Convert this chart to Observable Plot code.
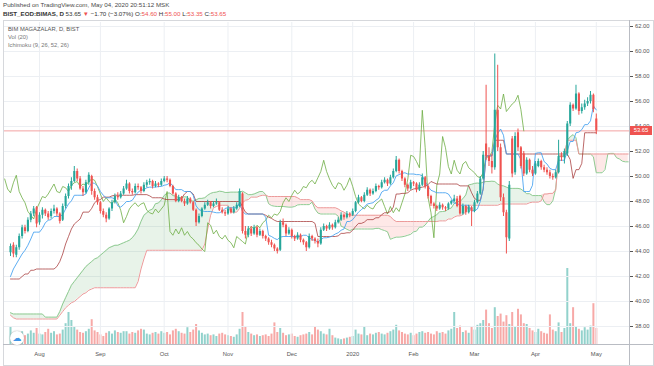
<!DOCTYPE html>
<html><head><meta charset="utf-8">
<script src="https://cdn.jsdelivr.net/npm/d3@7"></script>
<script src="https://cdn.jsdelivr.net/npm/@observablehq/plot@0.6"></script>
<style>
body{margin:0;width:654px;height:366px;overflow:hidden;background:#fff;font-family:"Liberation Sans",Arial,sans-serif;position:relative}
.abs{position:absolute;white-space:nowrap}
.r{color:#ef5350}
</style></head><body>
<div class="abs" style="left:3px;top:1px;font-size:6.2px;color:#4a4a4a">Published on TradingView.com, May 04, 2020 20:51:12 MSK</div>
<div class="abs" style="left:3px;top:10px;font-size:6.2px;color:#333"><b>BIST_EOD:BIMAS, D</b> 53.65 <span class="r">▼</span> −1.70 (−3.07%) O:<span class="r">54.60</span> H:<span class="r">55.00</span> L:<span class="r">53.35</span> C:<span class="r">53.65</span></div>
<div id="chart" class="abs" style="left:0;top:20px;width:654px;height:346px"></div>
<div class="abs" style="left:3px;top:20px;width:649px;height:344px;border:1px solid #d6d8dc;pointer-events:none"></div>
<div class="abs" style="left:3px;top:344px;width:650px;height:1px;background:#b9bcc3"></div>
<div class="abs" style="left:629px;top:20px;width:1px;height:345px;background:#b9bcc3"></div>
<div class="abs" style="left:8px;top:25.5px;font-size:5.8px;color:#555">BIM MAGAZALAR, D, BIST</div>
<div class="abs" style="left:8px;top:33.5px;font-size:5.8px;color:#777">Vol (20)</div>
<div class="abs" style="left:8px;top:41.5px;font-size:5.8px;color:#777">Ichimoku (9, 26, 52, 26)</div>
<div class="abs" style="left:10px;top:331px;width:14px;height:14px;border-radius:50%;background:#fff;box-shadow:0 0 1.5px #999;text-align:center;line-height:14px;font-size:9px;color:#3f95e6;font-family:'DejaVu Sans'">☁</div>
<script>
// ---- data ----
const monthTicks = [10,31,53,75,97,118,139,160,181,202];
const monthLabels = ["Aug","Sep","Oct","Nov","Dec","2020","Feb","Mar","Apr","May"];
const priceTicks = [38,40,42,44,46,48,50,52,54,56,58,60,62];
const lastPrice = 53.65;

const open = [
43.9,44.5,43.7,44.3,45.2,45.9,45.6,46.5,47.0,47.5,
46.3,46.9,47.3,47.0,46.8,47.2,47.4,47.0,46.5,47.6,
48.4,49.2,49.6,50.4,49.8,49.0,48.7,49.5,50.0,48.8,
48.3,47.9,47.2,46.9,46.6,47.4,47.9,48.4,48.3,48.6,
49.0,49.4,48.8,48.7,49.2,49.1,48.8,49.3,49.5,49.6,
49.2,49.4,49.3,49.6,49.8,49.7,49.2,48.6,48.0,48.3,
48.0,47.8,48.2,47.9,47.3,46.3,46.8,47.4,47.7,47.9,
47.6,47.8,47.9,47.3,47.1,47.0,47.4,47.1,47.4,47.6,
48.6,45.6,45.3,45.8,45.4,45.9,45.3,45.6,45.2,45.0,
44.7,44.5,44.2,44.1,46.3,46.1,45.4,45.7,45.2,45.0,
45.3,44.9,44.7,44.3,45.2,45.0,44.8,44.6,45.7,46.0,
45.8,46.1,45.9,46.3,46.5,46.9,46.7,47.0,46.9,47.2,
47.9,48.3,48.0,48.5,48.9,48.6,48.8,49.2,49.1,49.5,
49.7,49.4,49.9,50.4,51.3,50.4,49.8,49.3,49.0,49.5,
49.4,48.9,49.3,49.9,49.2,48.4,47.8,47.6,47.4,47.7,
47.5,47.4,47.8,48.0,48.2,48.4,47.0,47.6,47.1,47.5,
47.2,47.9,48.6,49.8,52.6,51.6,51.2,50.7,55.3,52.3,
48.3,47.1,45.0,53.0,50.3,53.5,52.3,51.8,50.2,51.3,
50.5,50.2,50.8,51.2,50.7,50.5,50.3,50.0,49.9,50.3,
51.6,51.5,51.8,54.2,55.7,55.4,56.6,55.2,55.5,55.8,
56.0,56.5,54.60];
const high = [
44.6,44.7,44.5,45.4,46.1,46.1,46.7,47.2,47.6,47.6,
47.1,47.5,47.4,47.2,47.4,47.7,47.5,47.1,47.8,48.6,
49.4,49.9,50.8,50.6,50.0,49.2,49.7,50.3,50.1,49.0,
48.5,48.0,47.4,47.1,47.5,48.1,48.6,48.7,48.8,49.2,
49.7,49.5,49.0,49.4,49.4,49.2,49.5,49.7,49.8,49.7,
49.6,49.5,49.8,50.0,50.0,49.8,49.3,48.7,48.5,48.4,
48.2,48.4,48.3,48.0,47.4,47.0,47.5,47.9,48.1,48.0,
48.0,48.2,48.0,47.5,47.3,47.6,47.5,47.6,47.9,49.0,
48.7,46.0,46.0,46.0,46.1,46.0,45.8,45.7,45.3,45.1,
44.9,44.6,44.3,46.5,46.6,46.2,45.9,45.8,45.3,45.5,
45.4,45.0,44.8,45.4,45.3,45.1,45.0,45.9,46.2,46.1,
46.3,46.2,46.5,46.7,47.1,47.0,47.2,47.1,47.4,48.0,
48.5,48.4,48.7,49.1,49.0,49.0,49.4,49.3,49.7,49.9,
49.8,50.1,50.6,51.6,51.4,50.5,49.9,49.4,49.7,49.6,
49.5,49.5,50.2,50.0,49.3,48.5,47.9,47.7,47.9,47.8,
47.6,47.9,48.1,48.5,48.4,48.5,47.8,47.7,47.7,47.6,
48.1,48.8,50.0,52.0,57.3,52.3,51.8,59.8,58.9,52.6,
48.6,47.3,49.6,53.2,53.5,53.8,52.4,52.0,51.5,51.4,
50.8,51.2,51.4,51.3,50.9,50.7,50.5,50.2,50.5,52.9,
51.9,52.2,54.4,55.9,55.8,57.3,56.7,55.8,56.1,56.3,
56.8,56.6,55.00];
const low = [
43.6,43.5,43.5,44.1,45.0,45.4,45.5,46.3,46.8,45.9,
46.1,46.6,46.8,46.5,46.6,47.0,46.8,46.2,46.4,47.4,
48.2,48.9,49.5,49.6,48.9,48.4,48.6,49.3,48.5,48.1,
47.7,47.0,46.7,46.3,46.5,47.2,47.8,48.1,48.2,48.5,
48.9,48.6,48.5,48.6,48.9,48.6,48.7,49.1,49.3,49.0,
49.1,49.1,49.2,49.5,49.5,49.1,48.5,47.9,47.9,47.9,
47.6,47.7,47.8,47.2,46.0,46.2,46.7,47.3,47.6,47.4,
47.5,47.7,47.2,47.0,46.8,46.9,47.0,47.0,47.3,47.5,
45.4,45.0,45.1,45.2,45.3,45.1,45.2,45.0,44.8,44.5,
44.3,44.0,43.8,44.0,45.9,45.2,45.3,45.0,44.8,44.9,
44.7,44.5,44.0,44.2,44.8,44.6,44.3,44.5,45.6,45.6,
45.7,45.7,45.8,46.2,46.4,46.5,46.6,46.7,46.8,47.1,
47.8,47.9,47.9,48.4,48.4,48.5,48.7,48.9,49.0,49.4,
49.2,49.3,49.8,50.3,50.2,49.6,49.1,48.8,48.9,49.2,
48.7,48.8,49.2,49.0,48.2,47.6,47.4,47.2,47.3,47.3,
47.2,47.3,47.7,47.9,47.5,46.9,46.9,46.9,47.0,46.0,
47.1,47.8,48.5,49.7,51.3,50.8,50.2,50.5,52.0,48.0,
46.8,43.8,44.8,49.9,50.1,52.0,50.6,50.0,50.1,50.3,
50.0,50.1,50.7,50.5,50.3,50.1,49.8,49.7,49.8,50.2,
51.2,51.0,51.6,54.0,55.2,55.3,54.9,55.0,55.3,55.6,
55.8,55.1,53.35];
const close = [
44.4,43.8,44.3,45.2,45.9,45.6,46.5,47.0,47.4,46.2,
46.9,47.3,47.0,46.7,47.2,47.4,47.0,46.4,47.6,48.4,
49.2,49.6,50.4,49.8,49.0,48.7,49.5,50.1,48.8,48.3,
47.9,47.2,46.9,46.6,47.4,47.9,48.4,48.3,48.6,49.0,
49.4,48.8,48.7,49.2,49.1,48.8,49.3,49.5,49.6,49.2,
49.4,49.3,49.6,49.8,49.7,49.2,48.6,48.0,48.3,48.0,
47.8,48.2,47.9,47.3,46.3,46.8,47.4,47.7,47.9,47.6,
47.8,47.9,47.3,47.1,47.0,47.4,47.1,47.4,47.7,48.8,
45.6,45.3,45.8,45.4,45.9,45.3,45.6,45.2,45.0,44.7,
44.5,44.2,44.0,46.3,46.1,45.4,45.7,45.2,45.0,45.3,
44.9,44.7,44.3,45.2,45.0,44.8,44.6,45.7,46.0,45.8,
46.1,45.9,46.3,46.5,46.9,46.7,47.0,46.9,47.2,47.9,
48.3,48.0,48.5,48.9,48.6,48.8,49.2,49.1,49.5,49.7,
49.4,49.9,50.4,51.3,50.4,49.8,49.3,49.0,49.5,49.4,
48.9,49.3,49.9,49.2,48.4,47.8,47.6,47.4,47.7,47.5,
47.4,47.8,48.0,48.2,47.6,47.0,47.6,47.1,47.5,47.2,
47.9,48.6,49.8,51.7,51.6,51.2,50.7,55.3,52.3,48.3,
47.1,45.1,49.3,50.2,53.2,52.3,50.8,50.2,51.3,50.5,
50.2,51.0,51.2,50.7,50.5,50.3,50.0,49.9,50.3,51.6,
51.5,52.0,54.2,55.7,55.4,56.6,55.2,55.5,55.8,56.0,
56.5,55.35,53.65];
// volume, millions of shares
const volume = [
2.2,1.4,1.2,1.5,1.6,1.1,1.3,1.7,1.4,2.0,
1.3,1.2,1.5,1.9,1.4,1.6,1.2,1.3,1.8,2.6,
4.0,3.0,2.2,1.8,1.5,1.4,1.6,1.9,3.1,1.7,
1.5,1.2,1.0,1.4,1.6,1.3,1.7,1.5,1.4,1.6,
1.6,1.3,1.5,1.4,1.7,1.9,1.8,1.3,1.2,1.4,
1.5,1.3,1.6,1.4,1.5,1.2,1.7,1.9,1.6,1.4,
1.3,2.1,1.5,1.8,2.5,1.7,1.4,1.2,1.3,1.1,
1.2,1.0,1.3,1.4,1.2,1.1,1.0,0.9,1.2,1.9,
4.0,2.2,1.5,1.3,1.1,1.2,1.0,1.1,1.2,1.0,
1.3,2.7,1.5,2.0,1.4,1.1,1.2,1.3,1.0,0.9,
1.1,1.2,1.3,1.5,1.2,2.2,1.8,1.6,1.3,1.2,
1.9,1.1,0.8,0.7,0.6,0.7,0.8,0.9,1.0,1.8,
1.3,1.2,2.2,1.1,1.3,1.2,1.4,1.5,1.3,1.2,
1.4,1.6,1.8,2.4,1.7,1.5,1.3,1.2,1.4,1.1,
1.3,1.5,1.6,1.4,1.5,1.3,1.2,1.6,1.4,1.5,
1.3,1.7,1.9,4.0,2.0,2.3,1.5,1.7,1.4,2.2,
1.8,2.4,2.6,3.0,4.3,2.6,2.0,4.6,3.5,3.8,
2.8,3.6,2.5,4.0,2.2,4.4,3.7,2.6,2.5,2.0,
1.7,1.5,1.9,1.6,1.4,1.3,3.7,1.8,1.6,2.7,
1.5,2.0,9.5,2.6,4.6,2.2,1.9,1.7,2.1,1.8,
2.3,5.1,2.0];
// Ichimoku values at the left edge (their history lies before the visible window)
const tenkanEarly = [42.0,42.6,43.0,43.4,43.8,44.1,44.5,45.0];
const kijunEarly = [41.8,41.8,41.8,41.8,42.0,42.2,42.2,42.5,42.5,42.6,
 42.6,42.6,42.6,42.6,42.6,42.6,42.8,43.2,43.8,44.6,45.2,45.8,46.2,46.4,46.6];
const spanAEarly = [39.1,39.0,39.0,39.0,39.0,39.0,39.0,39.0,39.0,39.0,
 39.0,39.0,38.75,38.75,38.75,38.75,38.75,39.2,39.8,40.3,
 40.8,41.3,41.6,41.9,42.2,42.5,42.8,43.0,43.2,43.4,
 43.5,43.7,43.9,44.1,44.3,44.4,44.5,44.5,44.6,44.7,
 44.8,44.9,45.1,45.4,45.8,46.4,46.9,47.1,47.3,47.4];
const spanBEarly = [38.9,38.7,38.6,38.6,38.6,38.6,38.6,38.6,38.6,38.6,
 38.6,38.6,38.6,38.6,38.6,38.6,38.6,38.9,39.2,39.5,
 39.7,39.9,40.0,40.2,40.4,40.6,40.7,40.9,41.0,41.1,
 41.1,41.1,41.1,41.1,41.1,41.1,41.1,41.1,41.1,41.1,
 41.1,41.1,41.1,41.1,41.6,42.6,43.4,44.1,44.1,44.1,
 44.1,44.1,44.1,44.1,44.1,44.1,44.1,44.1,44.1,44.1,
 44.1,44.1,44.1,44.1,44.1,44.1,44.1,44.6,45.8,46.9,
 47.5,47.6,47.7,47.7,47.7,47.7];

// ---- Ichimoku (9, 26, 52, 26) from the candles ----
const N = close.length;
function mid(a, b) { let hi = -Infinity, lo = Infinity; for (let k = a; k <= b; k++) { hi = Math.max(hi, high[k]); lo = Math.min(lo, low[k]); } return (hi + lo) / 2; }
const tenkan = close.map((_, i) => i < 8 ? tenkanEarly[i] : mid(i - 8, i));
const kijun = close.map((_, i) => i < 25 ? kijunEarly[i] : mid(i - 25, i));
const XMIN = -2.069, XMAX = 213.45;
const cloud = [];
for (let j = 0; j <= 213; j++) {
  const a = j < 50 ? spanAEarly[j] : (tenkan[j - 25] + kijun[j - 25]) / 2;
  const b = j < 76 ? spanBEarly[j] : mid(j - 76, j - 25);
  cloud.push({j, a, b, top: Math.max(a, b)});
}
const rows = close.map((c, i) => ({i, o: open[i], h: high[i], l: low[i], c, v: volume[i], t: tenkan[i], k: kijun[i], up: c >= open[i]}));
const lag = rows.filter(d => d.i - 25 >= -2).map(d => ({x: d.i - 25, c: d.c}));

const UP = "#26a69a", DN = "#ef5350";
const fontStyle = {background: "transparent", fontFamily: "'Liberation Sans', Arial, sans-serif", fontSize: "5.8px", color: "#555", overflow: "visible"};
const common = {width: 654, height: 346, marginLeft: 4, marginRight: 25, marginTop: 2, marginBottom: 22};

const volPlot = Plot.plot({
  ...common,
  style: {...fontStyle, background: "#fff"},
  x: {domain: [XMIN, XMAX], axis: null},
  y: {domain: [0, 9.5], range: [324, 248], axis: null},
  marks: [
    Plot.ruleX(rows, {x: "i", y1: 0, y2: "v", stroke: d => d.up ? "rgba(38,166,154,0.5)" : "rgba(239,83,80,0.5)", strokeWidth: 2})
  ]
});

const main = Plot.plot({
  ...common,
  style: fontStyle,
  x: {domain: [XMIN, XMAX], ticks: monthTicks, tickFormat: d => monthLabels[monthTicks.indexOf(d)], tickSize: 0, tickPadding: 7.5, label: null},
  y: {domain: [36.56, 62.32], axis: "right", ticks: priceTicks, tickFormat: d => d.toFixed(2), tickSize: 3, tickPadding: 2.5, label: null},
  marks: [
    Plot.ruleY(priceTicks, {stroke: "#eceff3"}),
    Plot.ruleX(monthTicks, {stroke: "#eceff3"}),
    Plot.areaY(cloud, {x: "j", y1: "b", y2: "top", fill: "#43a047", fillOpacity: 0.12, clip: true}),
    Plot.areaY(cloud, {x: "j", y1: "a", y2: "top", fill: "#f44336", fillOpacity: 0.12, clip: true}),
    Plot.line(cloud, {x: "j", y: "a", stroke: "#8fcb92", strokeWidth: 1, clip: true}),
    Plot.line(cloud, {x: "j", y: "b", stroke: "#ec9a9a", strokeWidth: 1, clip: true}),
    Plot.ruleY([lastPrice], {stroke: "#f3a3a2", strokeWidth: 1}),
    Plot.line(lag, {x: "x", y: "c", stroke: "#6eae45", strokeOpacity: 0.8, strokeWidth: 1, clip: true}),
    Plot.line(rows, {x: "i", y: "k", stroke: "#a02a2a", strokeOpacity: 0.7, strokeWidth: 1}),
    Plot.line(rows, {x: "i", y: "t", stroke: "#42a0f0", strokeOpacity: 0.85, strokeWidth: 1}),
    Plot.ruleX(rows, {x: "i", y1: "l", y2: "h", stroke: d => d.up ? UP : DN, strokeWidth: 1}),
    Plot.ruleX(rows, {x: "i", y1: "o", y2: "c", stroke: d => d.up ? UP : DN, strokeWidth: 2.1})
  ]
});

const chart = document.getElementById("chart");
volPlot.style.position = "absolute"; volPlot.style.left = "0"; volPlot.style.top = "0";
main.style.position = "absolute"; main.style.left = "0"; main.style.top = "0";
chart.append(volPlot, main);

// last price tag on the right axis
const py = main.scale("y").apply(lastPrice) + 20;
const tag = document.createElement("div");
tag.className = "abs";
tag.textContent = lastPrice.toFixed(2);
Object.assign(tag.style, {left: "630px", top: (py - 4.5) + "px", width: "22px", height: "9px", lineHeight: "9px", background: "#ef5350", color: "#fff", fontSize: "5.8px", textAlign: "center"});
document.body.appendChild(tag);
</script>
</body></html>
